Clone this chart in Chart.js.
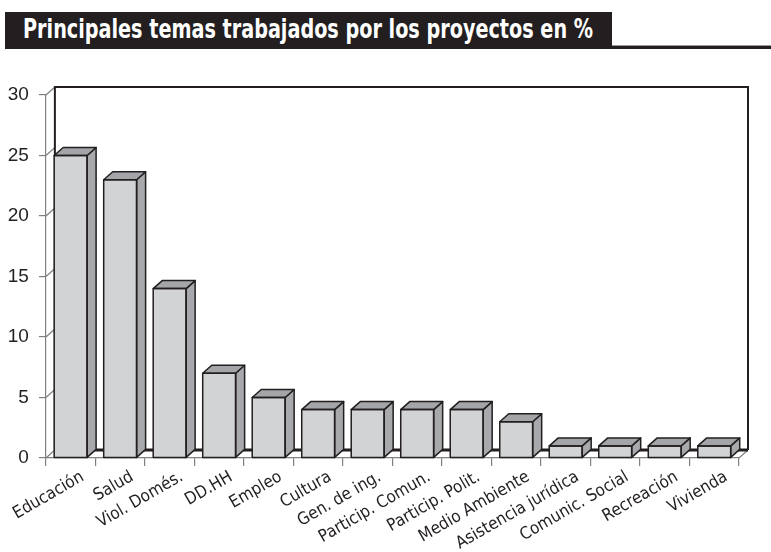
<!DOCTYPE html>
<html>
<head>
<meta charset="utf-8">
<script src="https://cdn.jsdelivr.net/npm/chart.js@4.4.1/dist/chart.umd.min.js"></script>
<style>
  html, body { margin: 0; padding: 0; background: #fff; }
  #wrap { position: relative; width: 771px; height: 552px; }
  #rule { position: absolute; left: 5px; top: 46px; width: 766px; height: 3px; background: #231f20; }
  #rule2 { position: absolute; left: 612px; top: 45px; width: 159px; height: 1px; background: #9a9a9a; }
  #banner { position: absolute; left: 5px; top: 12px; width: 607px; height: 35px; background: #231f20; }
  #title { position: absolute; left: 18px; top: 2px; color: #fff; font: bold 26px "Liberation Sans Narrow", "DejaVu Sans Condensed", sans-serif; white-space: nowrap; transform-origin: 0 0; }
  canvas { position: absolute; left: 0; top: 0; }
</style>
</head>
<body>
<div id="wrap">
  <div id="rule"></div>
  <div id="rule2"></div>
  <div id="banner"><span id="title">Principales temas trabajados por los proyectos en %</span></div>
  <canvas id="chart" width="771" height="552"></canvas>
</div>
<script>
// data
const categories = ["Educación", "Salud", "Viol. Domés.", "DD.HH", "Empleo", "Cultura", "Gen. de ing.",
  "Particip. Comun.", "Particip. Polit.", "Medio Ambiente", "Asistencia jurídica", "Comunic. Social",
  "Recreación", "Vivienda"];
const values = [25, 23, 14, 7, 5, 4, 4, 4, 4, 3, 1, 1, 1, 1];
const yTicks = [0, 5, 10, 15, 20, 25, 30];

// fit title text in the banner
const title = document.getElementById("title");
const tw = title.getBoundingClientRect().width;
title.style.transform = "scaleX(" + (570 / tw) + ")";

const DX = 9, DY = 8;
const ink = "#231f20";

// back wall, floor and the side/top faces of the bars
const box3d = {
  id: "box3d",
  beforeDatasetsDraw(chart) {
    const { ctx, chartArea: a, scales: { y } } = chart;
    ctx.save();
    // tick diagonals
    ctx.strokeStyle = "#808080";
    ctx.lineWidth = 1.2;
    yTicks.forEach(v => {
      const py = y.getPixelForValue(v);
      ctx.beginPath();
      ctx.moveTo(a.left, py);
      ctx.lineTo(a.left + DX, py - DY);
      ctx.stroke();
    });
    // floor right diagonal
    ctx.beginPath();
    ctx.moveTo(a.right, a.bottom);
    ctx.lineTo(a.right + DX, a.bottom - DY);
    ctx.stroke();
    // back wall
    ctx.strokeStyle = ink;
    ctx.lineWidth = 2;
    ctx.beginPath();
    ctx.moveTo(a.left + DX, a.bottom - DY);
    ctx.lineTo(a.left + DX, a.top - DY);
    ctx.lineTo(a.right + DX, a.top - DY);
    ctx.lineTo(a.right + DX, a.bottom - DY);
    ctx.stroke();
    ctx.lineWidth = 3;
    ctx.beginPath();
    ctx.moveTo(a.left + DX, a.bottom - DY);
    ctx.lineTo(a.right + DX, a.bottom - DY);
    ctx.stroke();
    ctx.restore();
  },
  afterDatasetsDraw(chart) {
    const { ctx } = chart;
    const meta = chart.getDatasetMeta(0);
    ctx.save();
    ctx.strokeStyle = ink;
    ctx.lineWidth = 1.5;
    ctx.lineJoin = "round";
    meta.data.forEach(bar => {
      const p = bar.getProps(["x", "y", "width", "base"], true);
      const l = p.x - p.width / 2, r = p.x + p.width / 2;
      // side
      ctx.fillStyle = "#a7a9ac";
      ctx.beginPath();
      ctx.moveTo(r, p.y);
      ctx.lineTo(r + DX, p.y - DY);
      ctx.lineTo(r + DX, p.base - DY);
      ctx.lineTo(r, p.base);
      ctx.closePath();
      ctx.fill();
      ctx.stroke();
      // top
      ctx.fillStyle = "#a3a5a8";
      ctx.beginPath();
      ctx.moveTo(l, p.y);
      ctx.lineTo(l + DX, p.y - DY);
      ctx.lineTo(r + DX, p.y - DY);
      ctx.lineTo(r, p.y);
      ctx.closePath();
      ctx.fill();
      ctx.stroke();
      // front outline
      ctx.strokeRect(l, p.y, p.width, p.base - p.y);
    });
    ctx.restore();
  }
};

new Chart(document.getElementById("chart"), {
  type: "bar",
  data: {
    labels: categories,
    datasets: [{
      data: values,
      backgroundColor: "#d1d3d4",
      borderWidth: 0,
      categoryPercentage: 1,
      barPercentage: 0.665
    }]
  },
  options: {
    responsive: false,
    animation: false,
    layout: { padding: { left: 0, top: 95, right: 32, bottom: 0 } },
    plugins: { legend: { display: false }, tooltip: { enabled: false } },
    scales: {
      x: {
        afterFit: s => { s.height = 94; },
        grid: { drawOnChartArea: false, color: "#808080", tickLength: 8, lineWidth: 1.2 },
        border: { color: "#808080", width: 1.2 },
        ticks: {
          color: ink,
          minRotation: 30,
          maxRotation: 30,
          labelOffset: 12,
          padding: 1,
          font: { family: "'Liberation Sans Narrow', 'DejaVu Sans Condensed', sans-serif", size: 17 }
        }
      },
      y: {
        min: 0,
        max: 30,
        afterFit: s => { s.width = 45; },
        afterBuildTicks: s => { s.ticks = yTicks.map(v => ({ value: v })); },
        grid: { drawOnChartArea: false, color: "#808080", tickLength: 7, lineWidth: 1.2 },
        border: { color: "#808080", width: 1.2 },
        ticks: {
          color: ink,
          padding: 10,
          font: { family: "'Liberation Sans', Arial, sans-serif", size: 19 }
        }
      }
    }
  },
  plugins: [box3d]
});
</script>
</body>
</html>
